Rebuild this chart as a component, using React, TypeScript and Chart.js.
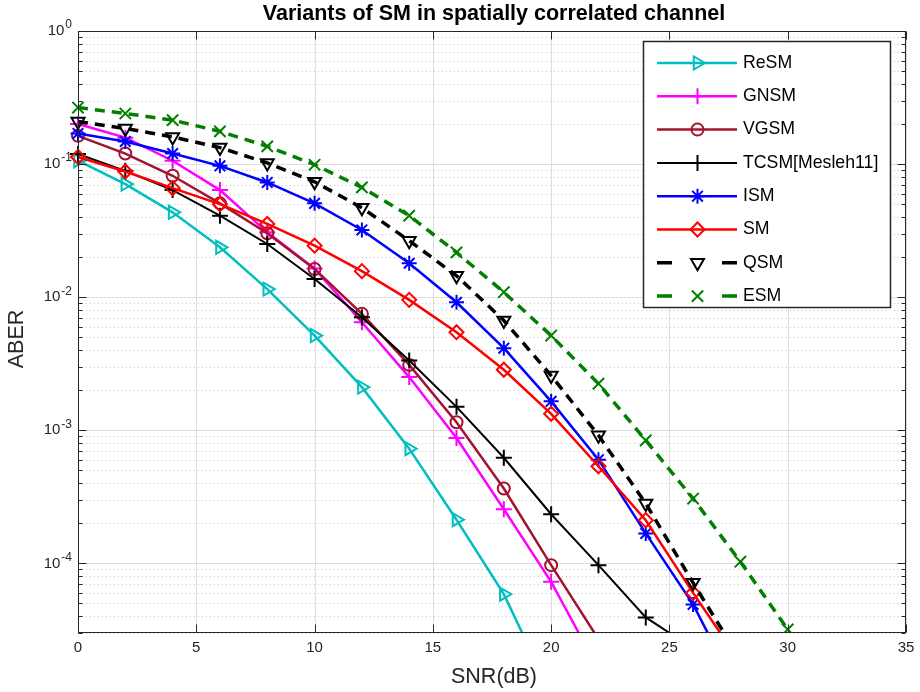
import React, { useEffect, useRef } from 'react';
import { Chart, registerables } from 'chart.js';
import { drawPoint } from 'chart.js/helpers';

Chart.register(...registerables);

// ---------- data ----------
const snr = [0, 2, 4, 6, 8, 10, 12, 14, 16, 18, 20, 22, 24, 26, 28, 30];
const reSM = [0.106, 0.0708, 0.0434, 0.0237, 0.0115, 0.00515, 0.00211, 7.28e-4, 2.13e-4, 5.87e-5, 1.05e-5];
const gnSM = [0.2, 0.158, 0.106, 0.0638, 0.0307, 0.0164, 0.00648, 0.00251, 8.75e-4, 2.55e-4, 7.27e-5, 1.6e-5];
const vgSM = [0.163, 0.12, 0.0817, 0.0507, 0.0302, 0.0163, 0.0075, 0.0031, 0.00115, 3.65e-4, 9.7e-5, 2.7e-5];
const tcSM = [0.119, 0.089, 0.0638, 0.041, 0.0251, 0.0137, 0.00707, 0.00335, 0.0015, 6.22e-4, 2.34e-4, 9.7e-5, 3.93e-5, 2.3e-5];
const iSM = [0.17, 0.148, 0.12, 0.097, 0.0728, 0.0507, 0.032, 0.018, 0.00916, 0.00414, 0.00165, 6.02e-4, 1.68e-4, 4.92e-5, 1.0e-5];
const sm = [0.113, 0.088, 0.066, 0.05, 0.0355, 0.0244, 0.0157, 0.00955, 0.00546, 0.00285, 0.00133, 5.37e-4, 2.11e-4, 6.0e-5, 1.8e-5];
const qSM = [0.209, 0.185, 0.16, 0.133, 0.102, 0.0736, 0.047, 0.0266, 0.0145, 0.00668, 0.00258, 9.16e-4, 2.82e-4, 7.15e-5, 1.9e-5];
const eSM = [0.266, 0.24, 0.214, 0.176, 0.136, 0.0989, 0.0668, 0.041, 0.0217, 0.0109, 0.00515, 0.00224, 8.4e-4, 3.07e-4, 1.03e-4, 3.19e-5];

const seriesNames = ['ReSM', 'GNSM', 'VGSM', 'TCSM[Mesleh11]', 'ISM', 'SM', 'QSM', 'ESM'];
const seriesValues = [reSM, gnSM, vgSM, tcSM, iSM, sm, qSM, eSM];

const xTickValues = [0, 5, 10, 15, 20, 25, 30, 35];
const yTickExponents = [0, -1, -2, -3, -4];
const xMin = 0;
const xMax = 35;
const yMin = 3e-5;
const yMax = 1;

const titleText = 'Variants of SM in spatially correlated channel';
const xLabelText = 'SNR(dB)';
const yLabelText = 'ABER';

// ---------- styles ----------
const FONT = '"Liberation Sans", Arial, Helvetica, sans-serif';
const styles = [
  { color: '#00BFBF', point: 'triangle', rot: 90, r: 7.5, w: 2.5, dash: [] as number[] },
  { color: '#FF00FF', point: 'cross', rot: 0, r: 8, w: 2.5, dash: [] as number[] },
  { color: '#A2142F', point: 'circle', rot: 0, r: 6, w: 2.5, dash: [] as number[] },
  { color: '#000000', point: 'cross', rot: 0, r: 8, w: 2, dash: [] as number[] },
  { color: '#0000FF', point: 'star', rot: 0, r: 7.5, w: 2.5, dash: [] as number[] },
  { color: '#FF0000', point: 'rectRot', rot: 0, r: 7, w: 2.5, dash: [] as number[] },
  { color: '#000000', point: 'triangle', rot: 180, r: 7.5, w: 3.5, dash: [10, 7] },
  { color: '#008000', point: 'crossRot', rot: 0, r: 8, w: 3.5, dash: [10, 7] },
];

const matlabPlugin = {
  id: 'matlabLook',
  beforeDatasetsDraw(chart: any) {
    const { ctx, chartArea: a, scales } = chart;
    const x = scales.x;
    const y = scales.y;
    ctx.save();
    ctx.lineWidth = 1;
    // minor y grid (dotted)
    ctx.strokeStyle = '#c4c4c4';
    ctx.setLineDash([1, 3]);
    for (const e of [0, -1, -2, -3, -4, -5]) {
      for (let m = 2; m <= 9; m++) {
        const v = m * Math.pow(10, e);
        if (v <= yMin || v >= yMax) continue;
        const py = Math.round(y.getPixelForValue(v)) + 0.5;
        ctx.beginPath();
        ctx.moveTo(a.left, py);
        ctx.lineTo(a.right, py);
        ctx.stroke();
      }
    }
    // major grid
    ctx.setLineDash([]);
    ctx.strokeStyle = '#dedede';
    for (const e of yTickExponents) {
      const py = Math.round(y.getPixelForValue(Math.pow(10, e))) + 0.5;
      ctx.beginPath();
      ctx.moveTo(a.left, py);
      ctx.lineTo(a.right, py);
      ctx.stroke();
    }
    for (const t of xTickValues) {
      const px = Math.round(x.getPixelForValue(t)) + 0.5;
      ctx.beginPath();
      ctx.moveTo(px, a.top);
      ctx.lineTo(px, a.bottom);
      ctx.stroke();
    }
    ctx.restore();
  },
  afterDatasetsDraw(chart: any) {
    const { ctx, chartArea: a, scales } = chart;
    const x = scales.x;
    const y = scales.y;
    ctx.save();
    ctx.strokeStyle = '#262626';
    ctx.lineWidth = 1;
    ctx.setLineDash([]);
    const L = Math.round(a.left) + 0.5;
    const R = Math.round(a.right) - 0.5;
    const T = Math.round(a.top) + 0.5;
    const B = Math.round(a.bottom) - 0.5;
    ctx.strokeRect(L, T, R - L, B - T);
    // x ticks (bottom and top, inward)
    for (const t of xTickValues) {
      const px = Math.round(x.getPixelForValue(t)) + 0.5;
      ctx.beginPath();
      ctx.moveTo(px, B);
      ctx.lineTo(px, B - 8);
      ctx.moveTo(px, T);
      ctx.lineTo(px, T + 8);
      ctx.stroke();
    }
    // y ticks (left and right)
    for (const e of [0, -1, -2, -3, -4, -5]) {
      for (let m = 1; m <= 9; m++) {
        const v = m * Math.pow(10, e);
        if (v < yMin || v > yMax) continue;
        const len = m === 1 ? 8 : 4;
        const py = Math.round(y.getPixelForValue(v)) + 0.5;
        ctx.beginPath();
        ctx.moveTo(L, py);
        ctx.lineTo(L + len, py);
        ctx.moveTo(R, py);
        ctx.lineTo(R - len, py);
        ctx.stroke();
      }
    }
    ctx.restore();
  },
  afterDraw(chart: any) {
    const { ctx, chartArea: a, scales } = chart;
    const x = scales.x;
    const y = scales.y;
    ctx.save();
    ctx.setLineDash([]);
    // x tick labels
    ctx.fillStyle = '#262626';
    ctx.font = `15px ${FONT}`;
    ctx.textAlign = 'center';
    ctx.textBaseline = 'middle';
    for (const t of xTickValues) {
      ctx.fillText(String(t), x.getPixelForValue(t), a.bottom + 15);
    }
    // y tick labels 10^e
    for (const e of yTickExponents) {
      const py = y.getPixelForValue(Math.pow(10, e));
      const exp = e === 0 ? '0' : '-' + String(-e);
      ctx.font = `12px ${FONT}`;
      const ew = ctx.measureText(exp).width;
      const right = a.left - 6;
      ctx.textAlign = 'right';
      ctx.fillText(exp, right, py - 6);
      ctx.font = `15px ${FONT}`;
      ctx.fillText('10', right - ew - 1, py);
    }
    // axis labels
    ctx.font = `21.5px ${FONT}`;
    ctx.textAlign = 'center';
    ctx.fillText(xLabelText, (a.left + a.right) / 2 + 2, a.bottom + 44);
    ctx.save();
    ctx.translate(17, (a.top + a.bottom) / 2 + 7);
    ctx.rotate(-Math.PI / 2);
    ctx.fillText(yLabelText, 0, 0);
    ctx.restore();
    // title
    ctx.fillStyle = '#000000';
    ctx.font = `bold 21.5px ${FONT}`;
    ctx.fillText(titleText, (a.left + a.right) / 2 + 2, 14);

    // legend
    const bx = 643, by = 41, bw = 247, bh = 266;
    ctx.fillStyle = '#ffffff';
    ctx.fillRect(bx, by, bw, bh);
    ctx.strokeStyle = '#262626';
    ctx.lineWidth = 1.5;
    ctx.strokeRect(bx + 0.5, by + 0.5, bw, bh);
    seriesNames.forEach((name, i) => {
      const s = styles[i];
      const cy = 63 + i * 33.3;
      ctx.strokeStyle = s.color;
      ctx.lineWidth = s.w;
      ctx.beginPath();
      if (s.dash.length) {
        ctx.moveTo(657, cy);
        ctx.lineTo(672, cy);
        ctx.moveTo(722, cy);
        ctx.lineTo(737, cy);
      } else {
        ctx.moveTo(657, cy);
        ctx.lineTo(737, cy);
      }
      ctx.stroke();
      ctx.fillStyle = 'rgba(0,0,0,0)';
      ctx.strokeStyle = s.color;
      ctx.lineWidth = 2;
      drawPoint(ctx, { pointStyle: s.point, rotation: s.rot, radius: s.r, borderWidth: 2 } as any, 697.5, cy);
      ctx.fillStyle = '#000000';
      ctx.font = `17.7px ${FONT}`;
      ctx.textAlign = 'left';
      ctx.textBaseline = 'middle';
      ctx.fillText(name, 743, cy);
    });
    ctx.restore();
  },
};

export default function App() {
  const ref = useRef<HTMLCanvasElement | null>(null);
  useEffect(() => {
    if (!ref.current) return;
    const datasets = seriesNames.map((name, i) => {
      const s = styles[i];
      return {
        label: name,
        data: seriesValues[i].map((v, k) => ({ x: snr[k], y: v })),
        borderColor: s.color,
        borderWidth: s.w,
        borderDash: s.dash,
        pointStyle: s.point as any,
        pointRotation: s.rot,
        pointRadius: s.r,
        pointBorderWidth: 2,
        pointBorderColor: s.color,
        pointBackgroundColor: 'rgba(0,0,0,0)',
        fill: false,
        tension: 0,
        order: seriesNames.length - i,
        clip: { left: 10, top: 0, right: 0, bottom: 0 } as any,
      };
    });
    const chart = new Chart(ref.current, {
      type: 'line',
      data: { datasets },
      options: {
        animation: false,
        responsive: false,
        devicePixelRatio: 1,
        layout: { padding: { left: 78, top: 31, right: 14, bottom: 59 } },
        plugins: { legend: { display: false }, tooltip: { enabled: false }, title: { display: false } },
        scales: {
          x: { type: 'linear', min: xMin, max: xMax, display: false },
          y: { type: 'logarithmic', min: yMin, max: yMax, display: false },
        },
      },
      plugins: [matlabPlugin],
    });
    return () => chart.destroy();
  }, []);
  return (
    <div style={{ position: 'absolute', left: 0, top: 0, width: 920, height: 692, background: '#fff' }}>
      <canvas ref={ref} width={920} height={692} style={{ width: 920, height: 692, display: 'block' }} />
    </div>
  );
}
